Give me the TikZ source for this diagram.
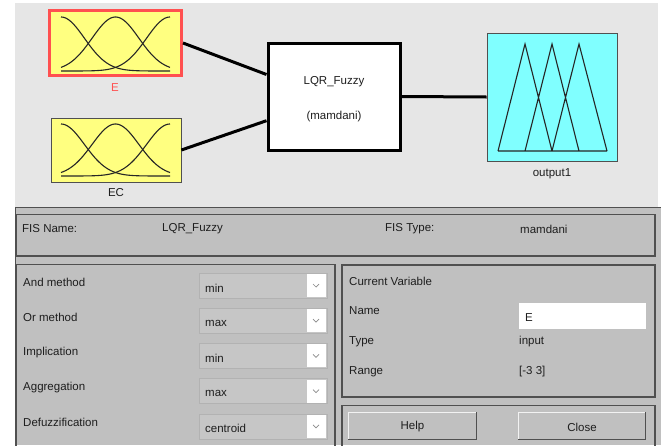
\documentclass[tikz,border=0pt]{standalone}
\usepackage{fontspec}
\setmainfont{Liberation Sans}
\usetikzlibrary{calc}
\definecolor{topbg}{HTML}{E6E6E6}
\definecolor{panelbg}{HTML}{C0C0C0}
\definecolor{frame}{HTML}{505050}
\definecolor{txt}{HTML}{1E1E1E}
\definecolor{inyel}{HTML}{FFFF80}
\definecolor{selred}{HTML}{FF5050}
\definecolor{outcyan}{HTML}{80FFFF}
\definecolor{ddfill}{HTML}{C6C6C6}
\definecolor{ddedge}{HTML}{B2B2B2}
\definecolor{chev}{HTML}{8A8A8A}
\begin{document}
\begin{tikzpicture}[x=1pt,y=-1pt,
  lbl/.style={anchor=west,inner sep=0pt,text=txt,font=\fontsize{11.5}{13}\selectfont},
  ctext/.style={inner sep=0pt,text=txt,font=\fontsize{11.5}{13}\selectfont},
  panel/.style={draw=frame,line width=1.5pt},
  mfbox/.style={rectangle,inner sep=0pt,draw=frame,line width=0.8pt},
  conn/.style={line width=3pt,black},
  curve/.style={line width=1.1pt,black!85},
  ddbox/.style={fill=ddfill,draw=ddedge,line width=0.6pt},
  btn/.style={fill=panelbg,draw=frame,line width=1pt}
]
\useasboundingbox (0,0) rectangle (661,445);
\fill[white] (0,0) rectangle (661,445);
% top area
\fill[topbg] (15,3) rectangle (658,207);
% bottom area
\fill[panelbg] (15,208) rectangle (661,445);
\draw[frame,line width=1.5pt] (15,207.5) -- (661,207.5);
\draw[frame,line width=1.5pt] (15.5,208) -- (15.5,445);

% ---- input E ----
\node[rectangle,inner sep=0pt,draw=selred,line width=3pt,fill=inyel,
      minimum width=132pt,minimum height=65pt] (E) at (115.5,43) {};
\foreach \c in {61,115.5,170}{
  \draw[curve] plot[domain=61:170,samples=90,smooth] (\x,{71-54*exp(-((\x-\c)^2)/1100)});
}
\node[ctext,text=selred] (Elbl) at (115,88) {E};

% ---- input EC ----
\node[mfbox,fill=inyel,minimum width=130pt,minimum height=64pt] (EC) at (116,150) {};
\foreach \c in {61,115.5,170}{
  \draw[curve] plot[domain=61:170,samples=90,smooth] (\x,{176-52*exp(-((\x-\c)^2)/1100)});
}
\node[ctext] (EClbl) at (116,193) {EC};

% ---- FIS box ----
\node[rectangle,inner sep=0pt,draw=black,line width=3pt,fill=white,
      minimum width=132pt,minimum height=107pt] (fis) at (334,96.5) {};
\node[ctext] (fisname) at (334,82) {LQR\_Fuzzy};
\node[ctext] (fistype) at (334,117) {(mamdani)};

% ---- output ----
\node[mfbox,fill=outcyan,minimum width=130pt,minimum height=128pt] (out) at (552,97) {};
\draw[curve,line join=miter] (498,151) -- (525,44) -- (552,151)
  (525,151) -- (552,44) -- (579,151)
  (552,151) -- (579,44) -- (607,151)
  (498,151) -- (607,151);
\node[ctext] (outlbl) at (552,174) {output1};

% connectors
\draw[conn] (E.east) -- ($(fis.north west)!0.3!(fis.south west)$);
\draw[conn] (EC.east) -- ($(fis.north west)!0.72!(fis.south west)$);
\draw[conn] (fis.east) -- (out.west);

% ---- FIS name panel ----
\draw[panel] (16.5,214.5) rectangle (655,256);
\node[lbl] (fn) at (22,229) {FIS Name:};
\node[lbl] (fnv) at (162,229) {LQR\_Fuzzy};
\node[lbl] (ft) at (385,229) {FIS Type:};
\node[lbl] (ftv) at (520,229) {mamdani};

% ---- methods panel ----
\draw[panel] (16,446) -- (16,264.5) -- (335,264.5) -- (335,446);
\foreach \i/\lab/\val in {0/And method/min,1/Or method/max,2/Implication/min,3/Aggregation/max,4/Defuzzification/centroid}{
  \pgfmathsetmacro{\yt}{273+35.2*\i}
  \node[lbl] (lab\i) at (23,\yt+9) {\lab};
  \draw[ddbox] (199,\yt) rectangle (327,\yt+25);
  \fill[white] (307,\yt+1) rectangle (326,\yt+24);
  \draw[chev,line width=0.7pt] (313,\yt+11) -- (316,\yt+14) -- (319,\yt+11);
  \node[lbl] (val\i) at (205,\yt+15) {\val};
}

% ---- current variable panel ----
\draw[panel] (342,265) rectangle (655,397);
\node[lbl] (cv) at (349,281) {Current Variable};
\node[lbl] (nm) at (349,311) {Name};
\fill[white] (519,303) rectangle (646,329);
\node[lbl] (nmv) at (525,318) {E};
\node[lbl] (ty) at (349,342) {Type};
\node[lbl] (tyv) at (519,342) {input};
\node[lbl] (rg) at (349,372) {Range};
\node[lbl] (rgv) at (519,372) {[-3 3]};

% ---- buttons panel ----
\draw[panel] (342,446) -- (342,405.5) -- (655,405.5) -- (655,446);
\fill[panelbg] (348,412) rectangle (477,440);
\draw[white!90!gray,line width=1.5pt] (348.5,440) -- (348.5,412.5) -- (477,412.5);
\draw[frame,line width=1.5pt] (348,439.5) -- (476.5,439.5) -- (476.5,412);
\node[ctext] (help) at (412.5,427) {Help};
\fill[panelbg] (518,412) rectangle (646,440);
\draw[white!90!gray,line width=1.5pt] (518.5,440) -- (518.5,412.5) -- (646,412.5);
\draw[frame,line width=1.5pt] (518,439.5) -- (645.5,439.5) -- (645.5,412);
\node[ctext] (close) at (582,427) {Close};
\end{tikzpicture}
\end{document}
